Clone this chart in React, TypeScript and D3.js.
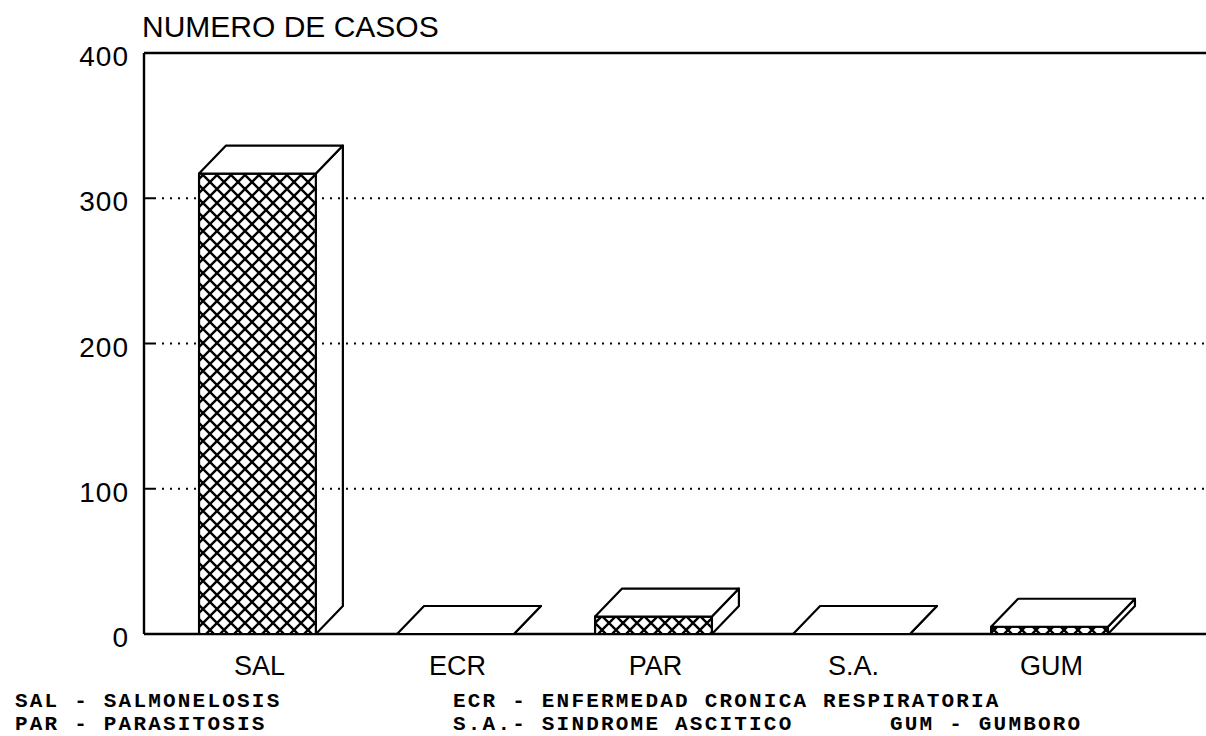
import React, { useEffect, useRef } from 'react';
import * as d3 from 'd3';

const categories = ['SAL', 'ECR', 'PAR', 'S.A.', 'GUM'];
const casos = [317, 0, 12, 0, 5];
const yTicks = [0, 100, 200, 300, 400];
const legendLeft = ['SAL - SALMONELOSIS', 'PAR - PARASITOSIS'];
const legendMid = ['ECR - ENFERMEDAD CRONICA RESPIRATORIA', 'S.A.- SINDROME ASCITICO'];
const legendRight = ['GUM - GUMBORO'];

const App = () => {
  const ref = useRef<SVGSVGElement>(null);

  useEffect(() => {
    const svg = d3.select(ref.current);
    svg.selectAll('*').remove();

    const left = 144;
    const right = 1206;
    const top = 53;
    const bottom = 634;
    const dx = 27;
    const dy = -28;

    const x = d3.scaleBand<string>().domain(categories).range([left, 1163]).paddingInner(0.41).paddingOuter(0.278);
    const y = d3.scaleLinear().domain([0, 400]).range([bottom, top]);

    // crosshatch pattern
    const pat = svg
      .append('defs')
      .append('pattern')
      .attr('id', 'hatch')
      .attr('patternUnits', 'userSpaceOnUse')
      .attr('width', 14)
      .attr('height', 14);
    pat.append('rect').attr('width', 14).attr('height', 14).attr('fill', '#fff');
    pat
      .append('path')
      .attr('d', 'M0,0L14,14M14,0L0,14')
      .attr('stroke', '#000')
      .attr('stroke-width', 2.4);

    // title
    svg
      .append('text')
      .attr('x', 142)
      .attr('y', 37)
      .attr('font-family', 'Liberation Sans, Arial, sans-serif')
      .attr('font-size', 30)
      .text('NUMERO DE CASOS');

    // dotted grid
    svg
      .append('g')
      .selectAll('line')
      .data(yTicks.filter((t) => t > 0 && t < 400))
      .enter()
      .append('line')
      .attr('x1', left + 10)
      .attr('x2', right)
      .attr('y1', (d) => y(d))
      .attr('y2', (d) => y(d))
      .attr('stroke', '#000')
      .attr('stroke-width', 2)
      .attr('stroke-dasharray', '2,6');

    // ticks on left axis
    svg
      .append('g')
      .selectAll('line')
      .data(yTicks)
      .enter()
      .append('line')
      .attr('x1', left)
      .attr('x2', left + 10)
      .attr('y1', (d) => y(d))
      .attr('y2', (d) => y(d))
      .attr('stroke', '#000')
      .attr('stroke-width', 2);

    // y labels
    svg
      .append('g')
      .selectAll('text')
      .data(yTicks)
      .enter()
      .append('text')
      .attr('x', 129)
      .attr('y', (d) => y(d) + 13)
      .attr('text-anchor', 'end')
      .attr('font-family', 'Liberation Sans, Arial, sans-serif')
      .attr('font-size', 28)
      .attr('letter-spacing', 1)
      .text((d) => d);

    // frame
    const frame = svg.append('g').attr('stroke', '#000').attr('stroke-width', 2.4).attr('fill', 'none');
    frame.append('line').attr('x1', left).attr('x2', right).attr('y1', top).attr('y2', top);
    frame.append('line').attr('x1', left).attr('x2', left).attr('y1', top).attr('y2', bottom);
    frame.append('line').attr('x1', left).attr('x2', right).attr('y1', bottom).attr('y2', bottom);

    // 3D bars
    const w = x.bandwidth();
    const bars = svg
      .append('g')
      .selectAll('g')
      .data(categories.map((c, i) => ({ c, v: casos[i] })))
      .enter()
      .append('g')
      .attr('stroke', '#000')
      .attr('stroke-width', 2.2)
      .attr('stroke-linejoin', 'round');

    bars
      .filter((d) => d.v > 0)
      .append('rect')
      .attr('x', (d) => x(d.c)!)
      .attr('y', (d) => y(d.v))
      .attr('width', w)
      .attr('height', (d) => bottom - y(d.v))
      .attr('fill', 'url(#hatch)');

    bars
      .append('path')
      .attr('fill', 'none')
      .attr('d', (d) => {
        const x0 = x(d.c)!;
        const yv = y(d.v);
        return `M${x0 + w},${yv}L${x0 + w + dx},${yv + dy}L${x0 + w + dx},${bottom + dy}L${x0 + w},${bottom}`;
      });

    bars
      .append('path')
      .attr('fill', '#fff')
      .attr('d', (d) => {
        const x0 = x(d.c)!;
        const yv = y(d.v);
        return `M${x0},${yv}L${x0 + dx},${yv + dy}L${x0 + w + dx},${yv + dy}L${x0 + w},${yv}Z`;
      });

    // category labels
    svg
      .append('g')
      .selectAll('text')
      .data(categories)
      .enter()
      .append('text')
      .attr('x', (d) => x(d)! + w / 2 + 2)
      .attr('y', 675)
      .attr('text-anchor', 'middle')
      .attr('font-family', 'Liberation Sans, Arial, sans-serif')
      .attr('font-size', 27)
      .text((d) => d);

    // legend
    const legend = svg
      .append('g')
      .attr('font-family', 'Liberation Mono, DejaVu Sans Mono, monospace')
      .attr('font-weight', 'bold')
      .attr('font-size', 21)
      .attr('letter-spacing', 2.2)
      .attr('xml:space', 'preserve');
    const cols: [string[], number][] = [
      [legendLeft, 15],
      [legendMid, 453],
    ];
    cols.forEach(([lines, lx]) => {
      legend
        .selectAll(null)
        .data(lines)
        .enter()
        .append('text')
        .attr('x', lx)
        .attr('y', (d, i) => 707 + i * 23)
        .text((d) => d);
    });
    legend
      .append('text')
      .attr('x', 890)
      .attr('y', 730)
      .text(legendRight[0]);
  }, []);

  return <svg ref={ref} width={1206} height={736} style={{ position: 'absolute', left: 0, top: 0, background: '#fff' }} />;
};

export default App;
